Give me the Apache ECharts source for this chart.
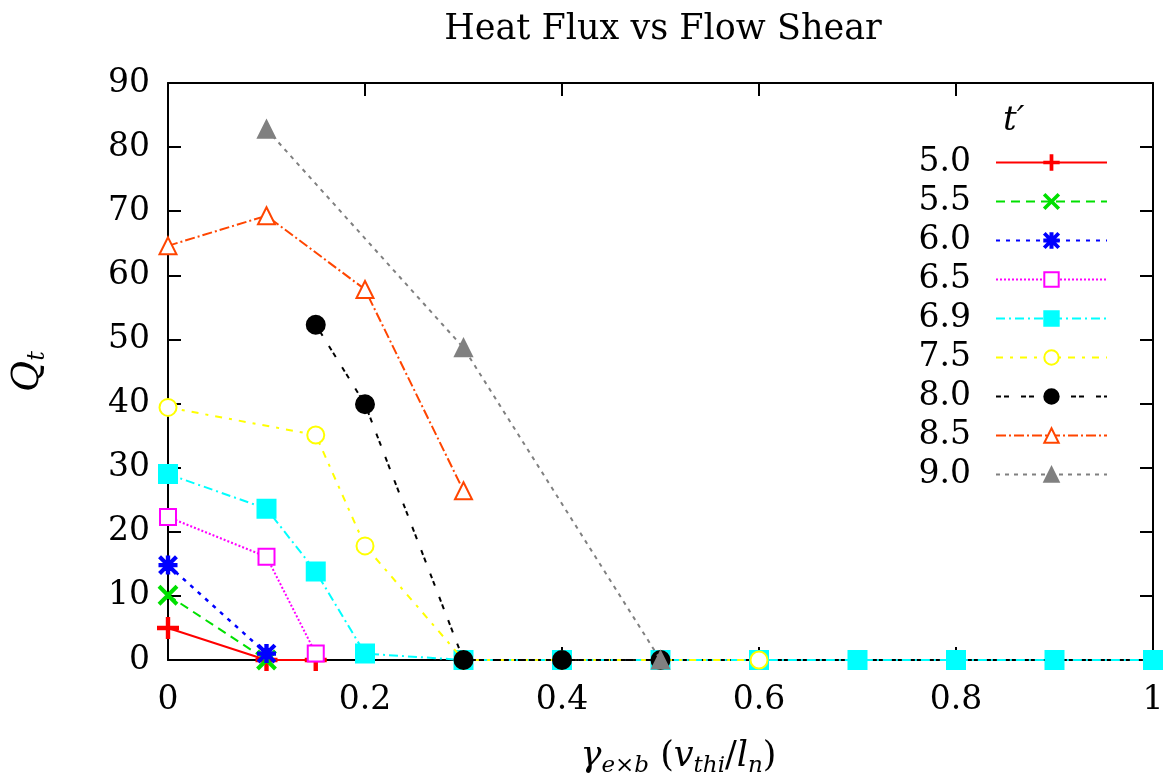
<!DOCTYPE html>
<html><head><meta charset="utf-8">
<script src="https://cdn.jsdelivr.net/npm/echarts@6/dist/echarts.min.js"></script>
<style>html,body{margin:0;padding:0;background:#fff}#c{width:1166px;height:779px}</style>
</head><body><div id="c"></div>
<script>
// ---- data ----
const seriesNames = ["5.0","5.5","6.0","6.5","6.9","7.5","8.0","8.5","9.0"];
const x50 = [0, 0.1, 0.15];            const y50 = [5.0, 0, 0];
const x55 = [0, 0.1];                  const y55 = [10.1, 0];
const x60 = [0, 0.1];                  const y60 = [14.8, 1.0];
const x65 = [0, 0.1, 0.15];            const y65 = [22.3, 16.1, 1.0];
const x69 = [0, 0.1, 0.15, 0.2, 0.3, 0.4, 0.5, 0.6, 0.7, 0.8, 0.9, 1.0];
const y69 = [29.0, 23.6, 13.8, 1.0, 0, 0, 0, 0, 0, 0, 0, 0];
const x75 = [0, 0.15, 0.2, 0.3, 0.4, 0.5, 0.6]; const y75 = [39.4, 35.1, 17.8, 0, 0, 0, 0];
const x80 = [0.15, 0.2, 0.3, 0.4, 0.5]; const y80 = [52.3, 39.9, 0, 0, 0];
const x85 = [0, 0.1, 0.2, 0.3];        const y85 = [64.6, 69.3, 57.8, 26.4];
const x90 = [0.1, 0.3, 0.5];           const y90 = [82.8, 48.7, 0];
const xTicks = [0, 0.2, 0.4, 0.6, 0.8, 1];
const yTicks = [0, 10, 20, 30, 40, 50, 60, 70, 80, 90];

const xs = [x50,x55,x60,x65,x69,x75,x80,x85,x90];
const ys = [y50,y55,y60,y65,y69,y75,y80,y85,y90];

// ---- styles ----
const FONT = 'DejaVu Serif';
const plusPath = 'path://M4.4,0H5.6V4.4H10V5.6H5.6V10H4.4V5.6H0V4.4H4.4Z';
const xPath = 'path://M0,0.8L0.8,0L5,4.2L9.2,0L10,0.8L5.8,5L10,9.2L9.2,10L5,5.8L0.8,10L0,9.2L4.2,5Z';
const starPath = 'path://M0,0.9L0.9,0L5,4.1L9.1,0L10,0.9L5.9,5L10,9.1L9.1,10L5,5.9L0.9,10L0,9.1L4.1,5Z M4.3,0H5.7V10H4.3Z M0,4.3H10V5.7H0Z';
const styles = [
  {color:'#ff0000', type:'solid', width:2, symbol:plusPath, size:20},
  {color:'#00e000', type:[9,6], width:2, symbol:xPath, size:18},
  {color:'#0000ff', type:[4,6], width:2.5, symbol:starPath, size:17},
  {color:'#ff00ff', type:[2,2], width:2, symbol:'emptyRect', size:16},
  {color:'#00ffff', type:[9,4,2,4], width:2, symbol:'rect', size:18},
  {color:'#ffff00', type:[7,7,3,7], width:2, symbol:'emptyCircle', size:17},
  {color:'#000000', type:[5,3,5,12], width:2, symbol:'circle', size:18},
  {color:'#ff4500', type:[10,3,2,3], width:2, symbol:'emptyTriangle', size:17},
  {color:'#808080', type:[4,5], width:2, symbol:'triangle', size:17}
];

const series = seriesNames.map((n,i)=>({
  name:n, type:'line', xAxisIndex:0, yAxisIndex:0,
  data: xs[i].map((x,k)=>[x, ys[i][k]]),
  symbol: styles[i].symbol, symbolSize: styles[i].size,
  showAllSymbol:true,
  lineStyle:{color:styles[i].color, width:styles[i].width, type:styles[i].type},
  itemStyle:{color:styles[i].color, borderColor:styles[i].color, borderWidth:2},
  emphasis:{disabled:true}, animation:false, z: 2+i
}));

const axisCommon = {
  min:0, axisLine:{show:true, onZero:false, lineStyle:{color:'#000', width:2}},
  axisTick:{show:true, inside:true, length:13, lineStyle:{color:'#000', width:2}},
  splitLine:{show:false}
};

const chart = echarts.init(document.getElementById('c'));
chart.setOption({
  backgroundColor:'#fff',
  animation:false,
  title:{text:'Heat Flux vs Flow Shear', left:658, top:7, textAlign:'center',
    textStyle:{fontFamily:FONT, fontSize:35, fontWeight:'normal', color:'#000'}},
  grid:{left:168, right:13, top:83, bottom:119, containLabel:false, outerBoundsMode:'none'},
  legend:{
    orient:'vertical', right:53, top:141, align:'right',
    itemWidth:111, itemHeight:18, itemGap:6,
    data:seriesNames,
    textStyle:{fontFamily:FONT, fontSize:33, color:'#000', lineHeight:33, padding:[0,20,0,0]},
    selectedMode:false
  },
  graphic:[{type:'text', left:1003, top:104,
    style:{text:'t′', font:'italic 34px "DejaVu Serif"', fill:'#000'}}],
  xAxis:[
    Object.assign({}, axisCommon, {type:'value', position:'bottom', max:1, interval:0.2,
      axisLabel:{show:true, margin:24, fontFamily:FONT, fontSize:33, color:'#000',
        formatter:v=>String(xTicks.find(t=>Math.abs(t-v)<1e-9) ?? v)},
      name:'{g|γ}{s|e×b}{r| (}{g|v}{s|thi}{r|/}{g|l}{s|n}{r|)}', nameLocation:'middle', nameGap:76,
      nameTextStyle:{padding:[0,0,0,36], rich:{
        g:{fontFamily:FONT, fontStyle:'italic', fontSize:35, color:'#000', lineHeight:42},
        s:{fontFamily:FONT, fontStyle:'italic', fontSize:23, color:'#000', lineHeight:42, verticalAlign:'bottom', padding:[18,0,0,0]},
        r:{fontFamily:FONT, fontSize:35, color:'#000', lineHeight:42}
      }}}),
    Object.assign({}, axisCommon, {type:'value', position:'top', max:1, interval:0.2,
      axisLabel:{show:false}})
  ],
  yAxis:[
    Object.assign({}, axisCommon, {type:'value', position:'left', max:90, interval:10,
      axisLabel:{show:true, margin:18, fontFamily:FONT, fontSize:33, color:'#000',
        formatter:v=>String(yTicks.find(t=>t===v) ?? v)},
      name:'{q|Q}{s|t}', nameLocation:'middle', nameGap:118, nameRotate:90,
      nameTextStyle:{rich:{
        q:{fontFamily:FONT, fontStyle:'italic', fontSize:38, color:'#000', lineHeight:44},
        s:{fontFamily:FONT, fontStyle:'italic', fontSize:24, color:'#000', lineHeight:44, verticalAlign:'bottom', padding:[16,0,0,0]}
      }}}),
    Object.assign({}, axisCommon, {type:'value', position:'right', max:90, interval:10,
      axisLabel:{show:false}})
  ],
  series: series
});
</script></body></html>
